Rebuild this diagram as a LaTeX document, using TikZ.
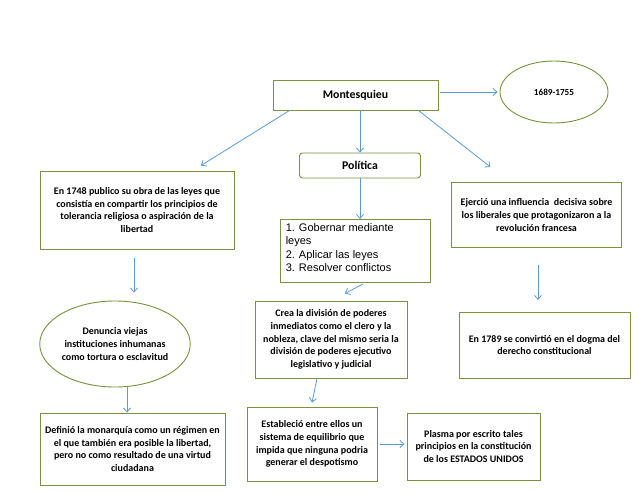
\documentclass[tikz,border=0pt]{standalone}
\usepackage{fontspec}
\setmainfont{Carlito}
\newfontfamily\arialf{Liberation Sans}
\usetikzlibrary{arrows.meta,shapes.geometric,calc}
\definecolor{boxgreen}{HTML}{77933C}
\definecolor{arrowblue}{HTML}{5B9BD5}
\tikzset{
  box/.style={draw=boxgreen, line width=0.9pt, rectangle, align=center, inner sep=2pt,
    font=\fontsize{10}{12.8}\selectfont\bfseries},
  oval/.style={draw=boxgreen, line width=0.9pt, ellipse, align=center, inner sep=0pt,
    font=\fontsize{10}{12.8}\selectfont\bfseries},
  conn/.style={draw=arrowblue, line width=0.8pt, -{Straight Barb[length=4pt,width=7pt]}}
}
\begin{document}
\begin{tikzpicture}[x=1pt,y=-1pt]
\useasboundingbox[fill=white] (0,0) rectangle (638,493);

\node[box, minimum width=165pt, minimum height=30pt, font=\fontsize{11.8}{14}\selectfont\bfseries] (mont) at (355.5,95) {Montesquieu};
\node[oval, minimum width=108pt, minimum height=62pt, font=\fontsize{9.2}{11}\selectfont\bfseries] (year) at (554,92) {1689-1755};
\node[box, rounded corners=3pt, minimum width=121pt, minimum height=25pt, font=\fontsize{11.8}{14}\selectfont\bfseries] (pol) at (360,165.5) {Política};

\node[box, minimum width=194pt, minimum height=78pt] (lbox) at (137,210)
  {En 1748 publico su obra de las leyes que\\consistía en compartir los principios de\\tolerancia religiosa o aspiración de la\\libertad};
\node[box, minimum width=170pt, minimum height=65pt] (rbox) at (536.5,215)
  {Ejerció una influencia~ decisiva sobre\\los liberales que protagonizaron a la\\revolución francesa};

\node[draw=boxgreen, line width=0.9pt, rectangle, minimum width=150pt, minimum height=63pt] (list) at (355,251) {};
\node[anchor=north west, align=left, inner sep=0pt, font=\arialf\fontsize{11}{13.5}\selectfont] (listtxt) at ($(list.north west)+(6,4)$)
  {1. Gobernar mediante\\leyes\\2. Aplicar las leyes\\3. Resolver conflictos};

\node[oval, minimum width=127pt, minimum height=86pt] (den) at (115,344)
  {Denuncia viejas\\instituciones inhumanas\\como tortura o esclavitud};
\node[box, minimum width=152pt, minimum height=77pt] (crea) at (331,339.5)
  {Crea la división de poderes\\inmediatos como el clero y la\\nobleza, clave del mismo seria la\\división de poderes ejecutivo\\legislativo y judicial};
\node[box, minimum width=171pt, minimum height=66pt] (r1789) at (544.5,345)
  {En 1789 se convirtió en el dogma del\\derecho constitucional};

\node[box, minimum width=185pt, minimum height=72pt] (defi) at (132.5,449)
  {Definió la monarquía como un régimen en\\el que también era posible la libertad,\\pero no como resultado de una virtud\\ciudadana};
\node[box, minimum width=130pt, minimum height=74pt] (estab) at (312,444)
  {Estableció entre ellos un\\sistema de equilibrio que\\impida que ninguna podria\\generar el despotismo};
\node[box, minimum width=133pt, minimum height=67pt] (plasma) at (473.5,446.5)
  {Plasma por escrito tales\\principios en la constitución\\de los ESTADOS UNIDOS};

% connectors
\draw[conn] ($(mont.east)+(2,-3)$) -- ($(year.west)+(-2,0)$);
\draw[conn] ($(mont.south west)+(17,0)$) -- ($(lbox.north)+(64,-5)$);
\draw[conn] ($(mont.south east)+(-20,0)$) -- ($(rbox.north)+(-46,-15)$);
\draw[conn] (pol.north |- mont.south) -- (pol.north);
\draw[conn] (pol.south) -- (pol.south |- list.north);
\draw[conn] ($(lbox.south)+(-3,9)$) -- ($(den.north)+(19,-8)$);
\draw[conn] ($(den.south)+(12,-1)$) -- ($(defi.north)+(-5.5,0)$);
\draw[conn] ($(list.south)+(8,1)$) -- ($(crea.north)+(14,-7)$);
\draw[conn] ($(crea.south)+(-14,0)$) -- ($(estab.north)+(0,-4)$);
\draw[conn] ($(estab.east)+(3,0)$) -- ($(plasma.west |- estab.east)+(-2,0)$);
\draw[conn] ($(rbox.south)+(1.5,17)$) -- ($(rbox.south)+(1.5,52)$);
\end{tikzpicture}
\end{document}
